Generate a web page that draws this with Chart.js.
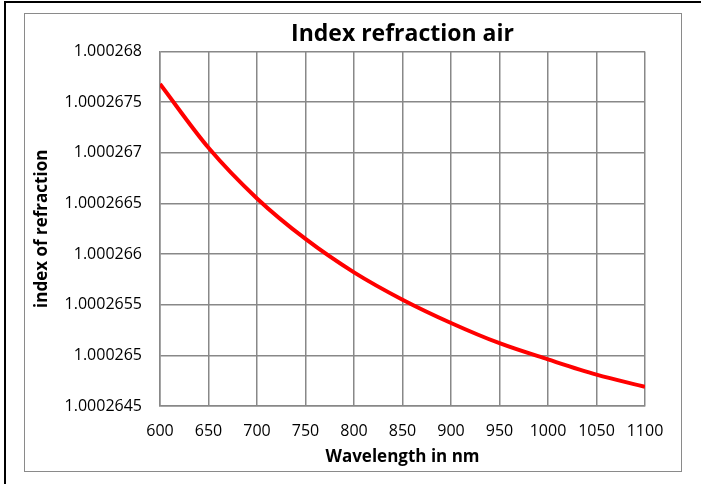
<!DOCTYPE html>
<html>
<head>
<meta charset="utf-8">
<script src="https://cdn.jsdelivr.net/npm/chart.js@4/dist/chart.umd.min.js"></script>
<style>
  html,body{margin:0;padding:0;background:#fff;}
  body{width:701px;height:484px;overflow:hidden;position:relative;}
  #outer{position:absolute;left:4px;top:1px;width:720px;height:520px;border:2px solid #000;}
  #frame{position:absolute;left:24px;top:13px;width:656px;height:457px;border:1px solid #8a8a8a;background:#fff;}
  #chart{position:absolute;left:0;top:0;}
</style>
</head>
<body>
<div id="outer"></div>
<div id="frame"><canvas id="chart" width="656" height="457"></canvas></div>
<script>
// wavelengths (nm) and index of refraction
const wavelength = [600, 650, 700, 750, 800, 850, 900, 950, 1000, 1050, 1100];
const nAir = [1.00026768, 1.00026705, 1.00026655, 1.00026615, 1.00026582, 1.00026555,
              1.00026532, 1.00026512, 1.00026496, 1.00026481, 1.00026469];

const yTicks = [1.0002645, 1.000265, 1.0002655, 1.000266, 1.0002665, 1.000267, 1.0002675, 1.000268];
const yTickLabels = ['1.0002645','1.000265','1.0002655','1.000266','1.0002665','1.000267','1.0002675','1.000268'];
const xTicks = [600, 650, 700, 750, 800, 850, 900, 950, 1000, 1050, 1100];
const xTickLabels = ['600','650','700','750','800','850','900','950','1000','1050','1100'];

const FONT = "'Open Sans', 'Liberation Sans', sans-serif";
const GRID = '#888888';

new Chart(document.getElementById('chart'), {
  type: 'line',
  data: {
    datasets: [{
      label: 'n',
      data: wavelength.map((w, i) => ({x: w, y: nAir[i]})),
      borderColor: '#ff0000',
      borderWidth: 4,
      pointRadius: 0,
      fill: false,
      cubicInterpolationMode: 'monotone'
    }]
  },
  options: {
    responsive: false,
    animation: false,
    layout: {padding: {left: 0, right: 36, top: 0, bottom: 0}},
    plugins: {
      legend: {display: false},
      tooltip: {enabled: false},
      title: {
        display: true,
        text: 'Index refraction air',
        fullSize: false,
        color: '#000',
        font: {family: FONT, size: 23, weight: 'bold'},
        padding: {top: 7, bottom: 3}
      }
    },
    scales: {
      x: {
        type: 'linear',
        min: 600, max: 1100,
        afterBuildTicks: s => { s.ticks = xTicks.map(v => ({value: v})); },
        afterFit: s => { s.height = 65; },
        ticks: {color: '#000', font: {family: FONT, size: 16}, padding: 16, maxRotation: 0,
                callback: (v, i) => xTickLabels[i]},
        grid: {color: GRID, lineWidth: 1.5, drawTicks: false},
        border: {color: GRID, width: 1.5},
        title: {display: true, text: 'Wavelength in nm', color: '#000',
                font: {family: FONT, size: 17, weight: 'bold'}, padding: {top: 0, bottom: 4}}
      },
      y: {
        type: 'linear',
        min: yTicks[0], max: yTicks[yTicks.length - 1],
        afterBuildTicks: s => { s.ticks = yTicks.map(v => ({value: v})); },
        afterFit: s => { s.width = 135; },
        ticks: {
          color: '#000', font: {family: FONT, size: 16}, padding: 18,
          callback: (v, i) => yTickLabels[i]
        },
        grid: {color: GRID, lineWidth: 1.5, drawTicks: false},
        border: {color: GRID, width: 1.5},
        title: {display: true, text: 'index of refraction', color: '#000',
                font: {family: FONT, size: 17, weight: 'bold'}, padding: {top: 7, bottom: 0}}
      }
    }
  }
});
</script>
</body>
</html>
